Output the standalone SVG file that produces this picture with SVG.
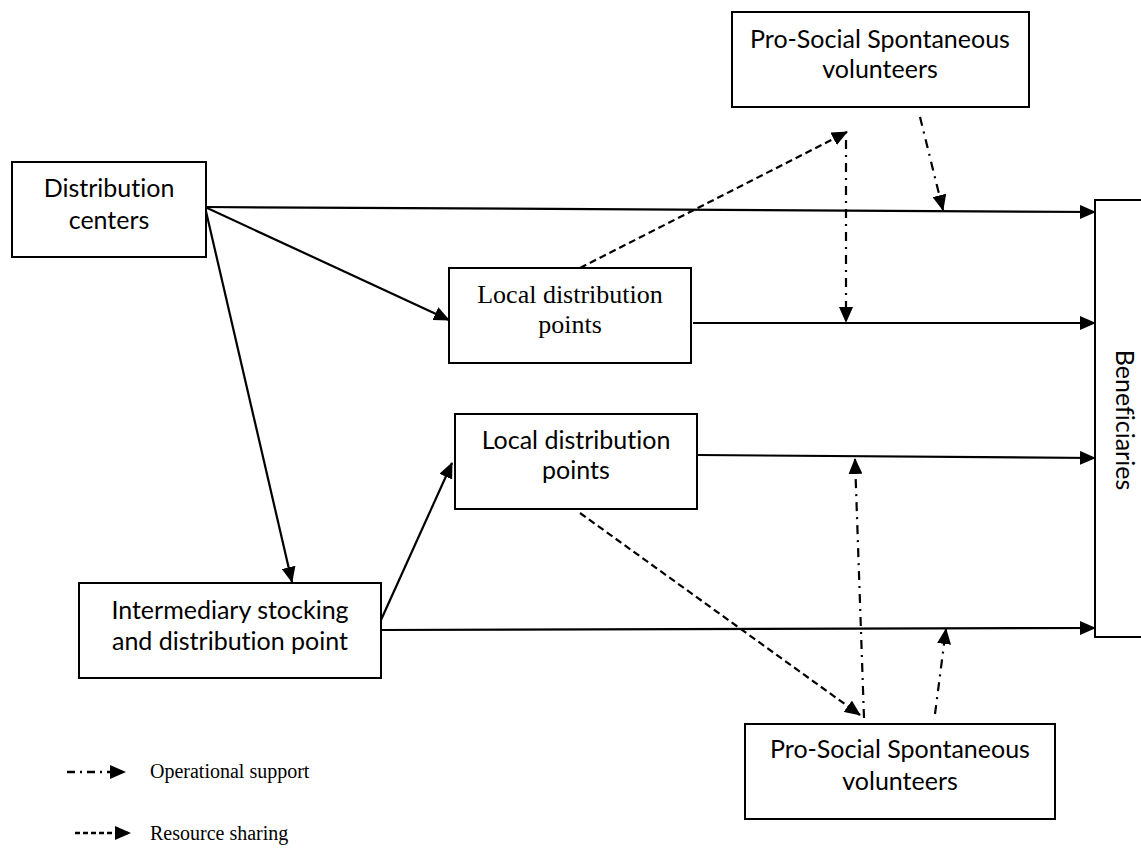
<svg xmlns="http://www.w3.org/2000/svg" width="1141" height="848" viewBox="0 0 1141 848">
<style>
.box{fill:#fff;stroke:#000;stroke-width:2}
.sans{font-family:Lato,"Open Sans","Noto Sans",sans-serif;font-size:25px;fill:#000;text-anchor:middle;font-variant-ligatures:none}
.serif{font-family:"Liberation Serif","Times New Roman",serif;font-size:26px;fill:#000;text-anchor:middle}
.leg{font-family:"Liberation Serif","Times New Roman",serif;font-size:20px;fill:#000}
.solid{fill:none;stroke:#000;stroke-width:2.2;marker-end:url(#ah)}
.dash{fill:none;stroke:#000;stroke-width:2.2;stroke-dasharray:7 4;marker-end:url(#ah)}
.dd{fill:none;stroke:#000;stroke-width:2.2;stroke-dasharray:9 6 2 6;marker-end:url(#ah)}
</style>
<defs>
<marker id="ah" markerUnits="userSpaceOnUse" markerWidth="16" markerHeight="14" refX="15" refY="7" orient="auto">
<path d="M0,0 L16,7 L0,14 Z" fill="#000"/>
</marker>
</defs>
<rect width="1141" height="848" fill="#fff"/>
<g id="connectors">
<line class="solid" x1="205" y1="207" x2="1095" y2="212"/>
<line class="solid" x1="205" y1="207" x2="449" y2="320"/>
<line class="solid" x1="205" y1="207" x2="292" y2="582"/>
<line class="solid" x1="693" y1="323" x2="1095" y2="323"/>
<line class="solid" x1="698" y1="455" x2="1095" y2="458"/>
<line class="solid" x1="381" y1="620" x2="452" y2="463"/>
<line class="solid" x1="381" y1="630" x2="1095" y2="628"/>
<line class="dash" x1="580" y1="268" x2="847" y2="132"/>
<line class="dd" x1="846" y1="140" x2="846" y2="322"/>
<line class="dd" x1="920" y1="117" x2="943" y2="210"/>
<line class="dash" x1="580" y1="513" x2="860" y2="715"/>
<line class="dd" x1="864" y1="718" x2="855" y2="459"/>
<line class="dd" x1="935" y1="714" x2="946" y2="629"/>
</g>
<g id="distribution-centers">
<rect class="box" x="12" y="162" width="194" height="95"/>
<text class="sans" x="109" y="197">Distribution</text>
<text class="sans" x="109" y="229">centers</text>
</g>
<g id="local-distribution-1">
<rect class="box" x="449" y="268" width="242" height="95"/>
<text class="serif" x="570" y="303">Local distribution</text>
<text class="serif" x="570" y="333">points</text>
</g>
<g id="local-distribution-2">
<rect class="box" x="455" y="414" width="242" height="95"/>
<text class="sans" x="576" y="449">Local distribution</text>
<text class="sans" x="576" y="479">points</text>
</g>
<g id="intermediary">
<rect class="box" x="79" y="583" width="302" height="95"/>
<text class="sans" x="230" y="619">Intermediary stocking</text>
<text class="sans" x="230" y="650">and distribution point</text>
</g>
<g id="volunteers-top">
<rect class="box" x="732" y="12" width="297" height="95"/>
<text class="sans" x="880" y="48">Pro-Social Spontaneous</text>
<text class="sans" x="880" y="78">volunteers</text>
</g>
<g id="volunteers-bottom">
<rect class="box" x="745" y="724" width="310" height="95"/>
<text class="sans" x="900" y="758">Pro-Social Spontaneous</text>
<text class="sans" x="900" y="790">volunteers</text>
</g>
<g id="beneficiaries">
<rect class="box" x="1095" y="200" width="60" height="437"/>
<text class="sans" transform="translate(1116,420) rotate(90)" x="0" y="0">Beneficiaries</text>
</g>
<g id="legend">
<line class="dd" x1="67" y1="772" x2="125" y2="772" style="stroke-dasharray:8 5 2 5;stroke-width:2.5"/>
<text class="leg" x="150" y="778">Operational support</text>
<line class="dash" x1="75" y1="833" x2="130" y2="833" style="stroke-dasharray:5 3;stroke-width:2.5"/>
<text class="leg" x="150" y="840">Resource sharing</text>
</g>
</svg>
